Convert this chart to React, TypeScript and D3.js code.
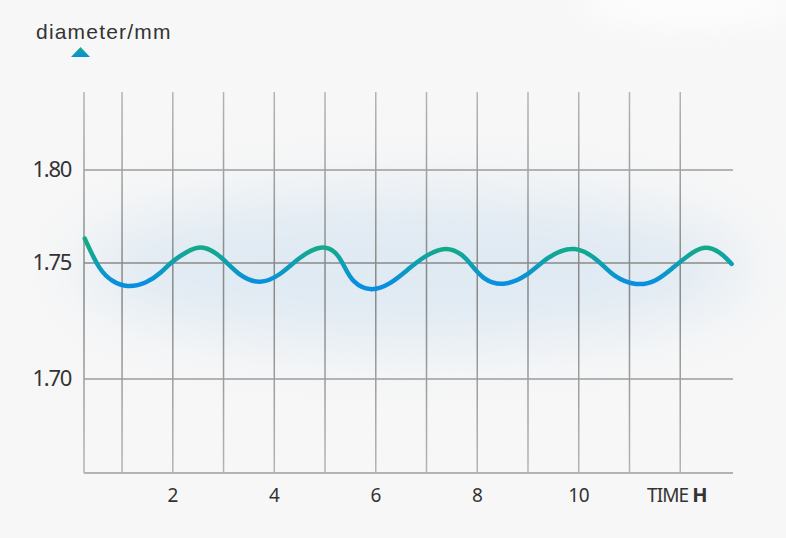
import React from "react";
import * as d3 from "d3";

// ---- data ----
const hours: number[] = [0.266, 0.562, 0.818, 1.088, 1.482, 1.804, 1.942, 2.271, 2.592, 2.967, 3.321, 3.716, 4.11, 4.504, 4.932, 5.228, 5.391, 5.549, 5.884, 6.278, 6.673, 7.002, 7.396, 7.717, 7.855, 8.112, 8.506, 8.979, 9.373, 9.925, 10.418, 10.674, 11.141, 11.535, 11.857, 12.127, 12.454, 12.783, 13.014];
const diameters: number[] = [1.7631, 1.7464, 1.7419, 1.7394, 1.7411, 1.7464, 1.75, 1.7562, 1.7599, 1.7534, 1.7441, 1.7408, 1.7445, 1.7535, 1.7599, 1.7562, 1.748, 1.7415, 1.7376, 1.7406, 1.748, 1.7545, 1.759, 1.7545, 1.75, 1.7428, 1.7399, 1.7441, 1.7534, 1.7602, 1.7509, 1.7442, 1.7399, 1.7421, 1.748, 1.7535, 1.7597, 1.7562, 1.7496];
const xGridHours: number[] = [1, 2, 3, 4, 5, 6, 7, 8, 9, 10, 11, 12];
const xTickLabels: number[] = [2, 4, 6, 8, 10];
const yTicks: number[] = [1.8, 1.75, 1.7];
const yTickLabels: string[] = ["1.80", "1.75", "1.70"];
const yAxisTitle = "diameter/mm";
const xAxisTitle = "TIME";
const xAxisUnit = "H";

// ---- layout ----
const W = 786;
const H = 538;
const plotLeft = 84;
const plotRight = 733;
const plotTop = 92;
const plotBottom = 473;

export default function App() {
  const x = d3.scaleLinear().domain([0.25, 13.04]).range([plotLeft, plotRight]);
  const y = d3.scaleLinear().domain([1.7, 1.75, 1.8]).range([379, 263, 170]);

  const pts = hours.map((h, i) => [h, diameters[i]] as [number, number]);
  const line = d3
    .line<[number, number]>()
    .x((d) => x(d[0]))
    .y((d) => y(d[1]))
    .curve(d3.curveBasis);

  return (
    <svg
      width={W}
      height={H}
      style={{ position: "absolute", left: 0, top: 0, display: "block" }}
    >
      <defs>
        <linearGradient id="curveGrad" gradientUnits="userSpaceOnUse" x1="0" y1={y(1.758)} x2="0" y2={y(1.741)}>
          <stop offset="0" stopColor="#13aa88" />
          <stop offset="0.5" stopColor="#0d9dba" />
          <stop offset="1" stopColor="#098fe0" />
        </linearGradient>
        <linearGradient id="triGrad" x1="0" y1="0" x2="0" y2="1">
          <stop offset="0" stopColor="#14aa8a" />
          <stop offset="1" stopColor="#0a8fdc" />
        </linearGradient>
        <linearGradient id="vGrid" gradientUnits="userSpaceOnUse" x1="0" y1={plotTop} x2="0" y2={plotBottom}>
          <stop offset="0" stopColor="#b4b4b4" />
          <stop offset="0.45" stopColor="#8a8a8a" />
          <stop offset="0.55" stopColor="#8a8a8a" />
          <stop offset="1" stopColor="#b4b4b4" />
        </linearGradient>
        <filter id="blurGlow" x="-30%" y="-100%" width="160%" height="300%">
          <feGaussianBlur stdDeviation="32" />
        </filter>
        <filter id="blurWhite" x="-50%" y="-100%" width="200%" height="300%">
          <feGaussianBlur stdDeviation="15" />
        </filter>
      </defs>

      <rect x={0} y={0} width={W} height={H} fill="#f7f7f7" />
      <ellipse cx={690} cy={5} rx={110} ry={20} fill="#ffffff" opacity={0.8} filter="url(#blurWhite)" />

      {/* glow band */}
      <ellipse
        cx={(plotLeft + plotRight) / 2 + 5}
        cy={y(1.748)}
        rx={335}
        ry={78}
        fill="#e0eaf3"
        filter="url(#blurGlow)"
      />

      {/* horizontal grid */}
      {yTicks.map((t) => (
        <line
          key={"h" + t}
          x1={plotLeft}
          x2={plotRight}
          y1={y(t)}
          y2={y(t)}
          stroke={t === 1.75 ? "#8a8a8a" : "#9c9c9c"}
          strokeWidth={1.5}
        />
      ))}

      {/* vertical grid */}
      {xGridHours.map((h) => (
        <line
          key={"v" + h}
          x1={x(h)}
          x2={x(h)}
          y1={plotTop}
          y2={plotBottom}
          stroke="url(#vGrid)"
          strokeWidth={1.5}
        />
      ))}

      {/* axes */}
      <line x1={plotLeft} x2={plotLeft} y1={plotTop} y2={plotBottom} stroke="url(#vGrid)" strokeWidth={1.5} />
      <line x1={plotLeft} x2={plotRight} y1={plotBottom} y2={plotBottom} stroke="#b2b2b2" strokeWidth={2} />

      {/* curve */}
      <path d={line(pts) || ""} fill="none" stroke="url(#curveGrad)" strokeWidth={4.5} strokeLinecap="round" />

      {/* y tick labels */}
      {yTicks.map((t, i) => (
        <text
          key={"yl" + t}
          x={71}
          y={y(t) + 7}
          textAnchor="end"
          fontFamily="'Noto Sans', sans-serif"
          fontSize={22}
          letterSpacing={-1.3}
          fill="#333"
        >
          {yTickLabels[i]}
        </text>
      ))}

      {/* x tick labels */}
      {xTickLabels.map((t) => (
        <text
          key={"xl" + t}
          x={x(t)}
          y={502}
          textAnchor="middle"
          fontFamily="'Noto Sans', sans-serif"
          fontSize={19}
          letterSpacing={-0.5}
          fill="#333"
        >
          {t}
        </text>
      ))}
      <text x={647} y={502} fontFamily="'Noto Sans', sans-serif" fontSize={19} letterSpacing={-0.9} fill="#333">
        {xAxisTitle}
        <tspan dx={4} fontWeight="bold" fontSize={20}>{xAxisUnit}</tspan>
      </text>

      {/* y axis title & marker */}
      <text x={36} y={39} fontFamily="'Liberation Sans', Arial, sans-serif" fontSize={21} letterSpacing={1.2} fill="#333">
        {yAxisTitle}
      </text>
      <path d={`M${71},${57} L${80.5},${47} L${90},${57} Z`} fill="url(#triGrad)" />
    </svg>
  );
}
